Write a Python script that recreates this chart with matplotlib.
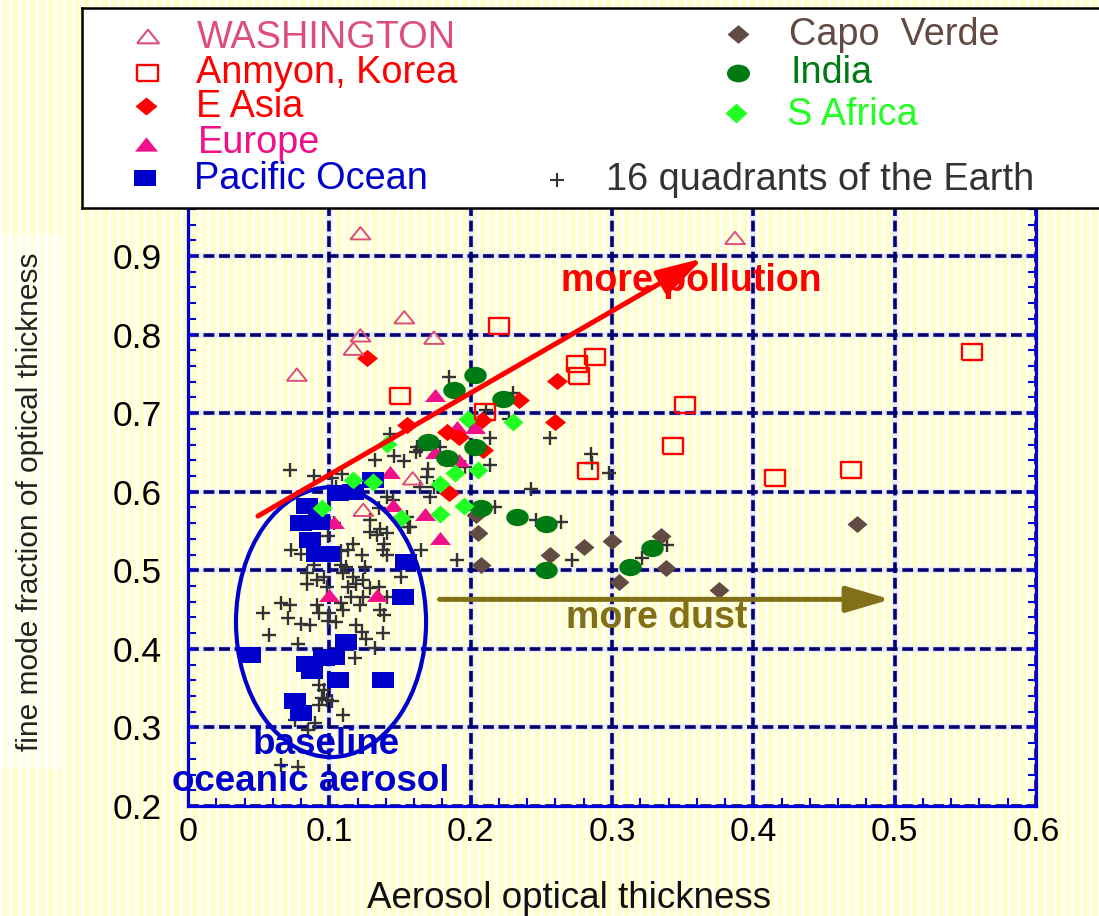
import numpy as np
import matplotlib
matplotlib.use("Agg")
import matplotlib.pyplot as plt
from matplotlib import font_manager
from matplotlib.patches import Ellipse, FancyArrowPatch
from matplotlib.path import Path
from matplotlib.transforms import Affine2D
from matplotlib.ticker import MultipleLocator

# ---------------- data ----------------
washington_x = [0.122, 0.077, 0.122, 0.117, 0.153, 0.174, 0.387, 0.159, 0.124]
washington_y = [0.929, 0.749, 0.799, 0.782, 0.822, 0.796, 0.923, 0.617, 0.577]

korea_x = [0.220, 0.150, 0.210, 0.275, 0.277, 0.288, 0.352, 0.343, 0.283, 0.415, 0.469, 0.555]
korea_y = [0.811, 0.722, 0.701, 0.763, 0.747, 0.771, 0.710, 0.658, 0.626, 0.617, 0.628, 0.778]

eastasia_x = [0.127, 0.155, 0.183, 0.192, 0.208, 0.209, 0.234, 0.261, 0.260, 0.185]
eastasia_y = [0.770, 0.685, 0.676, 0.669, 0.691, 0.653, 0.717, 0.741, 0.689, 0.598]

europe_x = [0.175, 0.190, 0.203, 0.175, 0.192, 0.143, 0.145, 0.168, 0.178, 0.100, 0.134, 0.103]
europe_y = [0.723, 0.682, 0.682, 0.650, 0.640, 0.625, 0.583, 0.572, 0.541, 0.468, 0.468, 0.562]

pacific_x = [0.131, 0.117, 0.106, 0.084, 0.080, 0.093, 0.086, 0.091, 0.100, 0.154, 0.152,
             0.044, 0.112, 0.084, 0.088, 0.096, 0.103, 0.106, 0.138, 0.076, 0.080]
pacific_y = [0.615, 0.600, 0.598, 0.582, 0.560, 0.561, 0.538, 0.521, 0.521, 0.511, 0.466,
             0.392, 0.409, 0.381, 0.372, 0.388, 0.390, 0.360, 0.360, 0.333, 0.318]

capoverde_x = [0.204, 0.205, 0.207, 0.256, 0.280, 0.300, 0.335, 0.338, 0.305, 0.376, 0.473]
capoverde_y = [0.570, 0.547, 0.507, 0.519, 0.530, 0.537, 0.543, 0.503, 0.485, 0.475, 0.559]

india_x = [0.203, 0.188, 0.223, 0.170, 0.203, 0.183, 0.207, 0.233, 0.253, 0.253, 0.313, 0.328]
india_y = [0.748, 0.729, 0.718, 0.663, 0.657, 0.643, 0.579, 0.568, 0.559, 0.500, 0.504, 0.528]

safrica_x = [0.095, 0.117, 0.131, 0.141, 0.151, 0.178, 0.178, 0.189, 0.195, 0.198, 0.205, 0.230]
safrica_y = [0.579, 0.615, 0.612, 0.661, 0.566, 0.571, 0.610, 0.624, 0.582, 0.692, 0.628, 0.689]

quad_x = [0.072, 0.132, 0.146, 0.153, 0.161, 0.102, 0.105, 0.164, 0.135, 0.129, 0.136, 0.134,
          0.141, 0.129, 0.156, 0.103, 0.099, 0.117, 0.113, 0.123, 0.108, 0.073, 0.080, 0.138,
          0.141, 0.165, 0.108, 0.112, 0.125, 0.089, 0.084, 0.084, 0.091, 0.096, 0.098, 0.110,
          0.117, 0.119, 0.124, 0.129, 0.113, 0.135, 0.151, 0.141, 0.124, 0.122, 0.115, 0.066,
          0.072, 0.053, 0.071, 0.091, 0.093, 0.100, 0.105, 0.080, 0.086, 0.108, 0.110, 0.136,
          0.139, 0.119, 0.057, 0.078, 0.123, 0.126, 0.138, 0.132, 0.118, 0.093, 0.096, 0.095,
          0.098, 0.102, 0.093, 0.110, 0.090, 0.085, 0.076, 0.066, 0.078, 0.185, 0.143, 0.162,
          0.170, 0.089, 0.109, 0.178, 0.196, 0.230, 0.211, 0.227, 0.164, 0.214, 0.256, 0.285,
          0.286, 0.169, 0.174, 0.214, 0.243, 0.171, 0.141, 0.145, 0.217, 0.155, 0.157, 0.264,
          0.139, 0.190, 0.272, 0.298, 0.246, 0.321, 0.339, 0.099]
quad_y = [0.628, 0.640, 0.645, 0.639, 0.651, 0.617, 0.606, 0.606, 0.579, 0.564, 0.553, 0.545,
          0.547, 0.549, 0.555, 0.560, 0.543, 0.534, 0.526, 0.519, 0.524, 0.526, 0.521, 0.526,
          0.519, 0.526, 0.507, 0.504, 0.504, 0.507, 0.496, 0.483, 0.488, 0.492, 0.479, 0.496,
          0.492, 0.483, 0.488, 0.477, 0.479, 0.479, 0.492, 0.466, 0.466, 0.456, 0.466, 0.458,
          0.456, 0.445, 0.439, 0.456, 0.445, 0.445, 0.434, 0.432, 0.430, 0.458, 0.449, 0.449,
          0.443, 0.430, 0.417, 0.406, 0.422, 0.413, 0.420, 0.401, 0.388, 0.354, 0.348, 0.337,
          0.335, 0.333, 0.328, 0.316, 0.305, 0.297, 0.309, 0.252, 0.250, 0.746, 0.674, 0.657,
          0.629, 0.620, 0.623, 0.657, 0.632, 0.725, 0.704, 0.693, 0.653, 0.668, 0.668, 0.648,
          0.636, 0.619, 0.606, 0.634, 0.604, 0.593, 0.593, 0.589, 0.581, 0.568, 0.555, 0.562,
          0.534, 0.513, 0.513, 0.624, 0.564, 0.516, 0.532, 0.435]

xtick_vals = [0.0, 0.1, 0.2, 0.3, 0.4, 0.5, 0.6]
xtick_labels = ["0", "0.1", "0.2", "0.3", "0.4", "0.5", "0.6"]
ytick_vals = [0.2, 0.3, 0.4, 0.5, 0.6, 0.7, 0.8, 0.9]
ytick_labels = ["0.2", "0.3", "0.4", "0.5", "0.6", "0.7", "0.8", "0.9"]

# ---------------- style ----------------
names = {f.name for f in font_manager.fontManager.ttflist}
FONT = "Liberation Sans" if "Liberation Sans" in names else "DejaVu Sans"
plt.rcParams["font.family"] = [FONT, "DejaVu Sans"]

C_WASH = "#DC4F7D"
C_RED = "#FF0000"
C_EUR = "#F0108A"
C_PAC = "#0000CC"
C_CV = "#614B43"
C_IND = "#007A12"
C_SAF = "#22FF22"
C_QUAD = "#333333"
C_AXIS = "#0000DD"
C_GRID = "#000070"
C_DUST = "#827019"

W, H = 1099, 916
fig = plt.figure(figsize=(W / 100, H / 100), dpi=100)

# striped background
bg = fig.add_axes([0, 0, 1, 1], zorder=-10)
cols = np.arange(W)
white = (cols % 9) < 3
img = np.empty((1, W, 3))
img[0, white] = [1.0, 1.0, 1.0]
img[0, ~white] = [1.0, 1.0, 0.80]
bg.imshow(img, aspect="auto", interpolation="nearest", extent=[0, 1, 0, 1])
bg.set_xlim(0, 1)
bg.set_ylim(0, 1)
bg.set_axis_off()

# markers (closed outlines)
tri = [(-1, -0.62), (1, -0.62), (0, 0.62), (-1, -0.62)]
rect_k = [(-1, -0.8), (1, -0.8), (1, 0.8), (-1, 0.8), (-1, -0.8)]
rect_p = [(-1, -0.77), (1, -0.77), (1, 0.77), (-1, 0.77), (-1, -0.77)]
dia_ea = [(-1, 0), (0, 0.82), (1, 0), (0, -0.82), (-1, 0)]
dia_cv = [(-1, 0), (0, 0.85), (1, 0), (0, -0.85), (-1, 0)]
dia_sa = [(-1, 0), (0, 0.9), (1, 0), (0, -0.9), (-1, 0)]
ell = Path.unit_circle().transformed(Affine2D().scale(1.0, 0.77))

pt = 72 / 100.0  # points per pixel

ax = fig.add_axes([188 / W, 1 - 806 / H, (1036 - 188) / W, (806 - 177.4) / H], zorder=0)
ax.set_facecolor("none")
ax.set_xlim(0, 0.6)
ax.set_ylim(0.2, 1.0)

ax.set_xticks(xtick_vals)
ax.set_xticklabels(xtick_labels)
ax.set_yticks(ytick_vals)
ax.set_yticklabels(ytick_labels)
ax.xaxis.set_minor_locator(MultipleLocator(0.02))
ax.yaxis.set_minor_locator(MultipleLocator(0.02))

# grid: light underlay plus dark dashed line
for v in xtick_vals[1:-1]:
    ax.axvline(v, color="#ECECF8", lw=4.6, zorder=0.3)
for v in ytick_vals[1:]:
    ax.axhline(v, color="#ECECF8", lw=4.6, zorder=0.3)
ax.set_axisbelow(True)
ax.grid(True, which="major", color=C_GRID, lw=2.6, linestyle=(0, (3.0, 1.3)))

for s in ["left", "right", "bottom"]:
    ax.spines[s].set_color(C_AXIS)
    ax.spines[s].set_linewidth(2.3)
    ax.spines[s].set_zorder(8)
ax.spines["top"].set_visible(False)

ax.tick_params(which="both", direction="in", color=C_AXIS, width=1.5,
               left=True, right=True, bottom=True, top=False)
ax.tick_params(which="major", length=6)
ax.tick_params(which="minor", length=6)
ax.tick_params(axis="x", labelsize=24.5, pad=8)
ax.tick_params(axis="y", labelsize=25.5, pad=19)

# data marks
def ms(px):
    return (px * pt) ** 2

ax.scatter(quad_x, quad_y, marker="+", s=ms(13.5), c=C_QUAD, linewidths=1.7, zorder=2)
ax.scatter(europe_x, europe_y, marker=tri, s=ms(21), c=C_EUR, linewidths=0, zorder=3)
ax.scatter(eastasia_x, eastasia_y, marker=dia_ea, s=ms(21), c=C_RED, linewidths=0, zorder=3.1)
ax.scatter(pacific_x, pacific_y, marker=rect_p, s=ms(22), c=C_PAC, linewidths=0, zorder=3.2)
ax.scatter(capoverde_x, capoverde_y, marker=dia_cv, s=ms(20), c=C_CV, linewidths=0, zorder=3.3)
ax.scatter(india_x, india_y, marker=ell, s=ms(22.5), c=C_IND, linewidths=0, zorder=3.4)
ax.scatter(safrica_x, safrica_y, marker=dia_sa, s=ms(20), c=C_SAF, linewidths=0, zorder=3.5)
ax.scatter(korea_x, korea_y, marker=rect_k, s=ms(20), facecolors="none",
           edgecolors=C_RED, linewidths=1.7, zorder=3.6)
ax.scatter(washington_x, washington_y, marker=tri, s=ms(20), facecolors="none",
           edgecolors=C_WASH, linewidths=1.4, zorder=3.7)

# annotations
ax.add_patch(Ellipse((0.1012, 0.434), 0.1345, 0.3435, fill=False, ec=C_PAC, lw=3.0, zorder=5))
ax.add_patch(FancyArrowPatch((0.0495, 0.569), (0.3645, 0.897),
                             arrowstyle="-|>,head_length=28,head_width=8", mutation_scale=1,
                             color=C_RED, lw=3.6, shrinkA=0, shrinkB=0, zorder=6))
ax.add_patch(FancyArrowPatch((0.178, 0.463), (0.497, 0.463),
                             arrowstyle="-|>,head_length=27,head_width=8", mutation_scale=1,
                             color=C_DUST, lw=3.6, shrinkA=0, shrinkB=0, zorder=6))

ax.text(0.356, 0.855, "more pollution", color=C_RED, fontsize=27, fontweight="bold",
        ha="center", va="baseline", zorder=7)
ax.text(0.3316, 0.4265, "more dust", color=C_DUST, fontsize=27, fontweight="bold",
        ha="center", va="baseline", zorder=7)
ax.text(0.0977, 0.2662, "baseline", color=C_PAC, fontsize=26.5, fontweight="bold",
        ha="center", va="baseline", zorder=7)
ax.text(0.0868, 0.2191, "oceanic aerosol", color=C_PAC, fontsize=26.5, fontweight="bold",
        ha="center", va="baseline", zorder=7)

# axis labels
ax.set_xlabel("Aerosol optical thickness", fontsize=26.5, color="#111111")
ax.xaxis.label.set_va("baseline")
ax.xaxis.set_label_coords(0.449, -0.1623)
ax.set_ylabel("fine mode fraction of optical thickness", fontsize=21.5, color="#222222",
              bbox=dict(facecolor="white", alpha=0.5, edgecolor="none", pad=13))
ax.yaxis.label.set_va("baseline")
ax.yaxis.set_label_coords(-0.1769, 0.4836)

# legend box
leg = fig.add_axes([82 / W, 1 - 208 / H, (1140 - 82) / W, 200 / H], zorder=10)
leg.set_xlim(82, 1140)
leg.set_ylim(208, 8)
leg.set_facecolor("white")
leg.set_xticks([])
leg.set_yticks([])
for s in leg.spines.values():
    s.set_color("black")
    s.set_linewidth(1.8)

leg.scatter([148], [36.5], marker=tri, s=ms(22), facecolors="none", edgecolors=C_WASH, linewidths=1.5)
leg.scatter([147], [73], marker=rect_k, s=ms(21), facecolors="none", edgecolors=C_RED, linewidths=1.7)
leg.scatter([146], [106], marker=dia_ea, s=ms(22), c=C_RED, linewidths=0)
leg.scatter([146], [143.5], marker=tri, s=ms(23), c=C_EUR, linewidths=0)
leg.scatter([145], [178], marker=rect_p, s=ms(22), c=C_PAC, linewidths=0)
leg.scatter([738], [34], marker=dia_cv, s=ms(22), c=C_CV, linewidths=0)
leg.scatter([738], [73], marker=ell, s=ms(23), c=C_IND, linewidths=0)
leg.scatter([736], [113], marker=dia_sa, s=ms(22), c=C_SAF, linewidths=0)
leg.scatter([557], [180], marker="+", s=ms(14), c=C_QUAD, linewidths=1.5)

legend_entries = [
    ("WASHINGTON", 197, 48, C_WASH),
    ("Anmyon, Korea", 196, 83, C_RED),
    ("E Asia", 196, 117, C_RED),
    ("Europe", 198, 153, C_EUR),
    ("Pacific Ocean", 194, 189, C_PAC),
    ("Capo  Verde", 789, 45, C_CV),
    ("India", 790, 83, C_IND),
    ("S Africa", 787, 125, C_SAF),
    ("16 quadrants of the Earth", 606, 190, C_QUAD),
]
for txt, x, y, c in legend_entries:
    leg.text(x, y, txt, color=c, fontsize=27.3, ha="left", va="baseline")

fig.savefig("out.png", dpi=100)
